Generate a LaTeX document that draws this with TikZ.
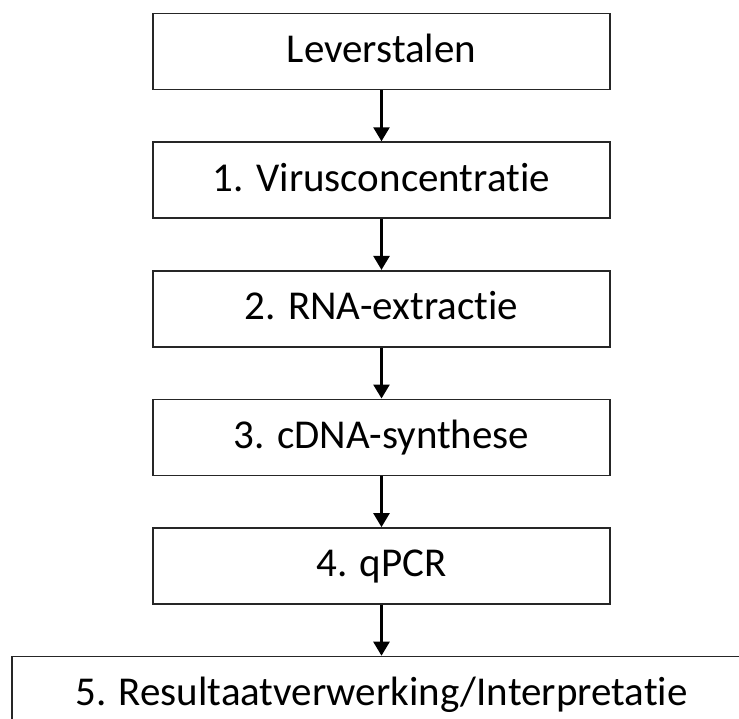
\documentclass[tikz,border=0pt]{standalone}
\usepackage{fontspec}
\setmainfont{Carlito}[Ligatures=NoCommon]
\usetikzlibrary{arrows.meta,positioning}

\begin{document}
\begin{tikzpicture}[
  x=1pt, y=1pt,
  node distance=51pt,
  every node/.style={font=\fontsize{41}{49}\selectfont},
  proc/.style={draw=black!85, line width=1.6pt, fill=white, align=center,
               minimum width=457pt, minimum height=76pt, inner sep=0pt,
               text height=30pt, text depth=8pt},
  line/.style={-{Triangle[length=14pt,width=16pt]}, line width=2.6pt}
]
\clip (0,0) rectangle (739,-718);

% ===== Steps =====
\node[proc] (samples) at (381.5,-51.5) {Leverstalen};
\node[proc, below=of samples] (virus) {1. Virusconcentratie};
\node[proc, below=of virus] (rna) {2. RNA-extractie};
\node[proc, below=of rna] (cdna) {3. cDNA-synthese};
\node[proc, below=of cdna] (qpcr) {4. qPCR};
\node[proc, below=of qpcr, minimum width=739pt] (results) {5. Resultaatverwerking/Interpretatie};

% ===== Edges =====
\draw[line] (samples) -- (virus);
\draw[line] (virus) -- (rna);
\draw[line] (rna) -- (cdna);
\draw[line] (cdna) -- (qpcr);
\draw[line] (qpcr) -- (results);
\end{tikzpicture}
\end{document}
